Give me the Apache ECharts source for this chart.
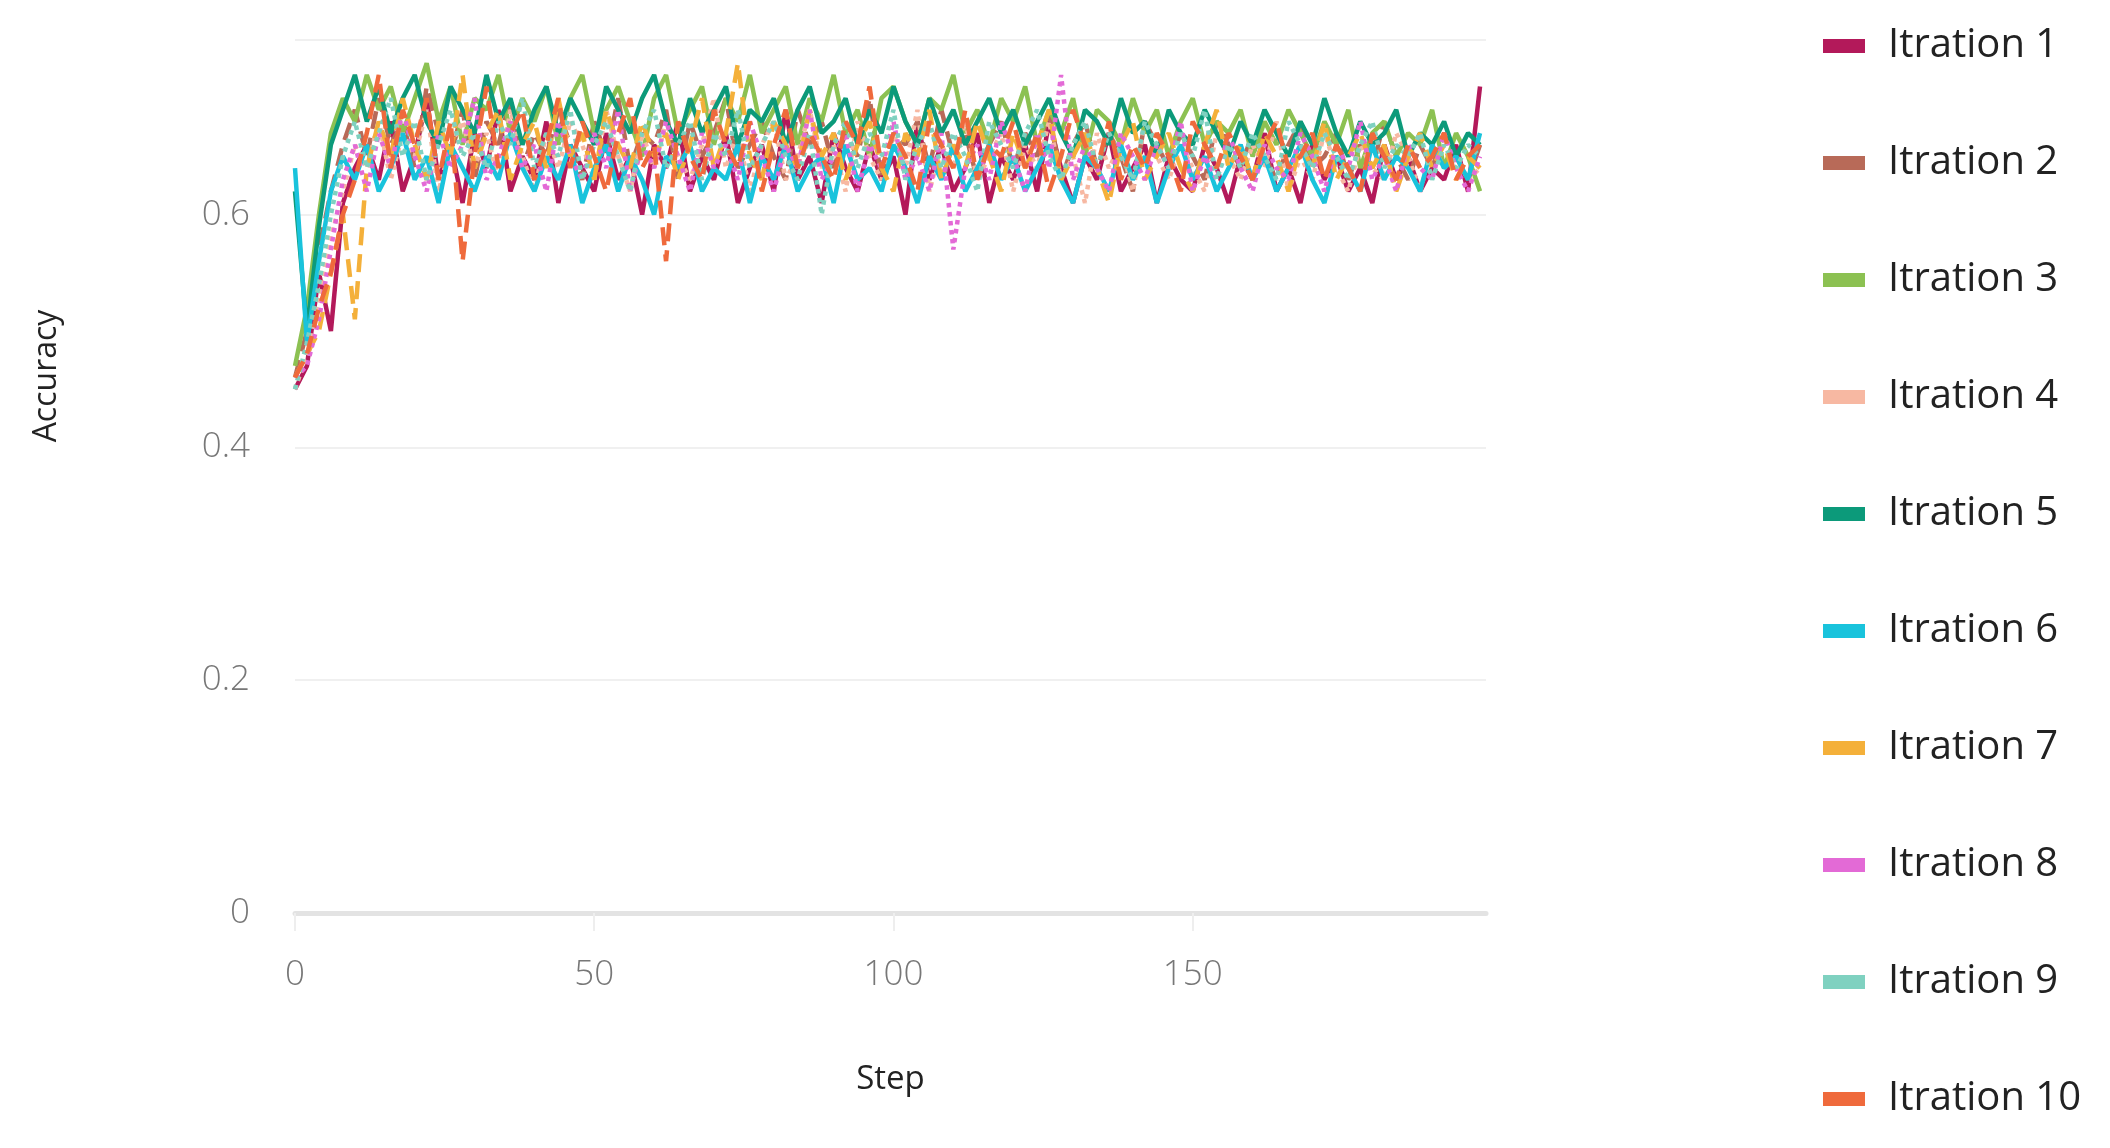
<!DOCTYPE html>
<html><head><meta charset="utf-8">
<script src="https://cdn.jsdelivr.net/npm/echarts@6/dist/echarts.min.js"></script>
<style>html,body{margin:0;padding:0;background:#fff}#c{width:2110px;height:1148px}</style>
</head><body><div id="c"></div>
<script>
const names=["Itration 1","Itration 2","Itration 3","Itration 4","Itration 5","Itration 6","Itration 7","Itration 8","Itration 9","Itration 10"];
const colors=["#b3195a","#b86a58","#8cc152","#f7b8a2","#0c9a7a","#19c3dc","#f4b03a","#e36ad6","#7fd1c0","#ef6a3c"];
const dashes=["solid","dashed","solid","dotted","solid","solid","dashed","dotted","dotted","dashed"];
const steps=[];for(let i=0;i<100;i++)steps.push(i*2);
const s1=[0.45,0.47,0.55,0.50,0.61,0.64,0.66,0.63,0.68,0.62,0.65,0.70,0.63,0.66,0.61,0.67,0.64,0.69,0.62,0.65,
0.63,0.68,0.61,0.66,0.64,0.62,0.67,0.63,0.65,0.60,0.66,0.64,0.68,0.62,0.65,0.63,0.67,0.61,0.64,0.66,
0.62,0.69,0.63,0.65,0.61,0.67,0.64,0.62,0.66,0.63,0.65,0.60,0.68,0.63,0.66,0.62,0.64,0.67,0.61,0.65,
0.63,0.66,0.62,0.68,0.64,0.61,0.65,0.63,0.67,0.62,0.64,0.66,0.61,0.65,0.63,0.62,0.66,0.64,0.61,0.65,
0.63,0.67,0.62,0.64,0.61,0.66,0.63,0.65,0.62,0.64,0.61,0.66,0.63,0.65,0.62,0.64,0.63,0.66,0.62,0.71];
const s2=[0.46,0.50,0.57,0.62,0.66,0.69,0.65,0.70,0.66,0.68,0.64,0.71,0.67,0.65,0.69,0.63,0.68,0.66,0.70,0.64,
0.67,0.65,0.69,0.66,0.63,0.68,0.65,0.70,0.64,0.67,0.66,0.69,0.63,0.68,0.65,0.67,0.70,0.64,0.66,0.68,
0.65,0.63,0.69,0.66,0.68,0.64,0.67,0.65,0.70,0.63,0.67,0.66,0.68,0.64,0.69,0.65,0.67,0.63,0.66,0.68,
0.64,0.67,0.65,0.69,0.63,0.66,0.68,0.64,0.67,0.65,0.62,0.68,0.66,0.64,0.67,0.65,0.63,0.68,0.66,0.64,
0.67,0.65,0.63,0.66,0.68,0.64,0.65,0.67,0.63,0.66,0.64,0.68,0.65,0.63,0.66,0.64,0.67,0.65,0.63,0.66];
const s3=[0.47,0.52,0.60,0.67,0.70,0.68,0.72,0.69,0.71,0.67,0.70,0.73,0.68,0.71,0.66,0.70,0.69,0.72,0.67,0.70,
0.68,0.71,0.66,0.70,0.72,0.67,0.69,0.71,0.68,0.65,0.70,0.72,0.67,0.69,0.71,0.66,0.70,0.68,0.72,0.67,
0.69,0.71,0.66,0.70,0.68,0.72,0.67,0.69,0.65,0.70,0.71,0.68,0.66,0.70,0.69,0.72,0.67,0.69,0.66,0.70,
0.68,0.71,0.66,0.69,0.67,0.70,0.65,0.69,0.68,0.66,0.70,0.67,0.69,0.65,0.68,0.70,0.66,0.68,0.67,0.69,
0.65,0.68,0.66,0.69,0.67,0.65,0.68,0.66,0.69,0.64,0.67,0.68,0.65,0.67,0.66,0.69,0.64,0.67,0.65,0.62];
const s4=[0.45,0.48,0.53,0.58,0.62,0.66,0.64,0.68,0.63,0.67,0.65,0.69,0.62,0.66,0.68,0.64,0.67,0.63,0.69,0.65,
0.62,0.67,0.64,0.68,0.66,0.63,0.69,0.65,0.62,0.67,0.64,0.68,0.65,0.63,0.66,0.70,0.64,0.67,0.62,0.66,
0.68,0.63,0.65,0.69,0.64,0.66,0.62,0.68,0.65,0.63,0.67,0.64,0.69,0.62,0.66,0.64,0.68,0.63,0.65,0.67,
0.62,0.66,0.64,0.68,0.63,0.65,0.61,0.67,0.64,0.66,0.62,0.68,0.65,0.63,0.66,0.64,0.62,0.67,0.65,0.63,
0.66,0.64,0.68,0.62,0.65,0.63,0.67,0.64,0.62,0.66,0.64,0.63,0.67,0.65,0.62,0.66,0.64,0.65,0.63,0.64];
const s5=[0.62,0.50,0.59,0.66,0.69,0.72,0.68,0.71,0.67,0.70,0.72,0.68,0.66,0.71,0.69,0.67,0.72,0.68,0.70,0.66,
0.69,0.71,0.67,0.70,0.68,0.66,0.71,0.69,0.67,0.70,0.72,0.68,0.66,0.70,0.67,0.69,0.71,0.66,0.69,0.68,
0.70,0.66,0.69,0.71,0.67,0.68,0.70,0.66,0.69,0.67,0.71,0.68,0.66,0.70,0.67,0.69,0.66,0.68,0.70,0.67,
0.69,0.66,0.68,0.70,0.67,0.65,0.69,0.68,0.66,0.70,0.67,0.68,0.65,0.69,0.67,0.66,0.69,0.67,0.65,0.68,
0.66,0.69,0.67,0.65,0.68,0.66,0.70,0.67,0.65,0.68,0.66,0.67,0.69,0.65,0.67,0.66,0.68,0.65,0.67,0.66];
const s6=[0.64,0.49,0.56,0.62,0.65,0.63,0.66,0.62,0.64,0.67,0.63,0.65,0.61,0.66,0.64,0.62,0.65,0.63,0.67,0.64,
0.62,0.65,0.63,0.66,0.61,0.64,0.66,0.62,0.65,0.63,0.60,0.65,0.64,0.66,0.62,0.64,0.63,0.66,0.61,0.65,
0.63,0.66,0.62,0.64,0.65,0.61,0.66,0.63,0.64,0.62,0.66,0.64,0.61,0.65,0.63,0.66,0.62,0.64,0.66,0.63,
0.65,0.62,0.64,0.66,0.63,0.61,0.65,0.64,0.62,0.66,0.63,0.65,0.61,0.64,0.66,0.63,0.65,0.62,0.64,0.66,
0.63,0.65,0.62,0.64,0.66,0.63,0.61,0.65,0.64,0.62,0.66,0.63,0.65,0.64,0.62,0.66,0.64,0.65,0.63,0.67];
const s7=[0.46,0.48,0.50,0.55,0.60,0.51,0.64,0.68,0.65,0.70,0.66,0.63,0.68,0.65,0.72,0.64,0.67,0.69,0.63,0.66,
0.68,0.64,0.70,0.65,0.67,0.63,0.69,0.66,0.64,0.68,0.65,0.67,0.63,0.66,0.70,0.64,0.67,0.73,0.65,0.63,
0.68,0.66,0.64,0.69,0.65,0.67,0.63,0.66,0.68,0.64,0.62,0.67,0.65,0.69,0.63,0.66,0.64,0.68,0.65,0.62,
0.67,0.64,0.66,0.69,0.63,0.65,0.67,0.64,0.61,0.66,0.68,0.63,0.65,0.67,0.64,0.62,0.66,0.69,0.64,0.66,
0.63,0.67,0.65,0.62,0.66,0.64,0.68,0.63,0.65,0.67,0.64,0.66,0.62,0.65,0.67,0.64,0.66,0.63,0.65,0.64];
const s8=[0.46,0.47,0.51,0.57,0.63,0.66,0.62,0.67,0.64,0.69,0.65,0.62,0.67,0.64,0.66,0.70,0.63,0.65,0.68,0.64,
0.66,0.62,0.68,0.65,0.63,0.67,0.64,0.69,0.62,0.66,0.64,0.68,0.65,0.62,0.67,0.64,0.66,0.63,0.68,0.65,
0.62,0.66,0.64,0.69,0.63,0.65,0.67,0.62,0.66,0.64,0.68,0.63,0.65,0.62,0.67,0.57,0.64,0.66,0.63,0.68,
0.65,0.62,0.67,0.64,0.72,0.63,0.66,0.64,0.62,0.67,0.65,0.63,0.66,0.64,0.68,0.62,0.65,0.63,0.67,0.64,
0.62,0.66,0.64,0.63,0.67,0.65,0.62,0.66,0.64,0.68,0.63,0.65,0.62,0.66,0.64,0.63,0.67,0.64,0.62,0.65];
const s9=[0.45,0.49,0.54,0.60,0.65,0.68,0.64,0.67,0.70,0.65,0.68,0.63,0.66,0.69,0.65,0.67,0.64,0.68,0.66,0.70,
0.64,0.67,0.65,0.69,0.63,0.66,0.68,0.65,0.62,0.67,0.69,0.64,0.66,0.68,0.63,0.67,0.65,0.69,0.64,0.66,
0.68,0.65,0.63,0.67,0.60,0.66,0.68,0.64,0.67,0.65,0.69,0.63,0.66,0.68,0.64,0.67,0.65,0.62,0.68,0.66,
0.64,0.67,0.69,0.65,0.63,0.66,0.68,0.64,0.67,0.65,0.63,0.68,0.66,0.64,0.67,0.65,0.69,0.63,0.66,0.64,
0.67,0.65,0.63,0.68,0.66,0.64,0.67,0.65,0.63,0.66,0.68,0.64,0.66,0.65,0.67,0.63,0.66,0.64,0.66,0.65];
const s10=[0.46,0.48,0.52,0.55,0.60,0.63,0.67,0.72,0.64,0.69,0.66,0.70,0.63,0.68,0.56,0.65,0.71,0.64,0.67,0.69,
0.63,0.66,0.70,0.64,0.68,0.65,0.62,0.67,0.70,0.64,0.66,0.56,0.68,0.65,0.63,0.69,0.66,0.64,0.68,0.62,
0.66,0.69,0.64,0.67,0.65,0.63,0.68,0.66,0.71,0.64,0.67,0.65,0.62,0.68,0.66,0.64,0.69,0.63,0.66,0.65,
0.68,0.64,0.67,0.62,0.65,0.69,0.66,0.64,0.68,0.63,0.66,0.64,0.67,0.65,0.62,0.68,0.66,0.64,0.67,0.65,
0.63,0.66,0.68,0.64,0.65,0.67,0.63,0.66,0.64,0.62,0.67,0.65,0.63,0.66,0.64,0.65,0.67,0.63,0.65,0.66];
const allSeries=[s1,s2,s3,s4,s5,s6,s7,s8,s9,s10];
const xTicks=[0,50,100,150];
const yTicks=[0,0.2,0.4,0.6];

const chart=echarts.init(document.getElementById('c'));
const font='"Open Sans", "Noto Sans", sans-serif';
chart.setOption({
  animation:false,
  grid:{left:295,right:624,top:40,bottom:235},
  legend:{orient:'vertical',left:1818,top:18,itemWidth:42,itemHeight:14,itemGap:71,
    icon:'rect',textStyle:{fontFamily:font,fontSize:40,lineHeight:46,color:'#222',padding:[0,0,0,18]},data:names},
  graphic:[{type:'text',x:47,y:376,rotation:Math.PI/2,
    style:{text:'Accuracy',fontFamily:font,fontSize:32,fill:'#222',align:'center',verticalAlign:'middle'}}],
  xAxis:{type:'value',min:0,max:199,interval:50,
    name:'Step',nameLocation:'middle',nameGap:150,nameTextStyle:{fontFamily:font,fontSize:33,color:'#222'},
    axisLine:{show:true,lineStyle:{color:'#e3e3e3',width:5}},
    axisTick:{show:true,length:18,lineStyle:{color:'#eeeeee',width:2}},
    splitLine:{show:false},
    axisLabel:{fontFamily:font,fontSize:35,color:'#777',margin:45,fontWeight:300,showMaxLabel:false,
      formatter:v=>xTicks.includes(v)?String(v):''}},
  yAxis:{type:'value',min:0,max:0.75,interval:0.2,
    axisLine:{show:false},axisTick:{show:false},
    splitLine:{show:true,lineStyle:{color:'#f0f0f0',width:2}},
    axisLabel:{fontFamily:font,fontSize:35,color:'#777',margin:45,fontWeight:300,showMaxLabel:false,
      formatter:v=>yTicks.some(t=>Math.abs(t-v)<1e-6)?String(+v.toFixed(1)):''}},
  series:allSeries.map((arr,i)=>({
    name:names[i],type:'line',showSymbol:false,symbol:'circle',
    data:arr.map((v,j)=>[steps[j],v]),
    lineStyle:{color:colors[i],width:4.5,type:dashes[i]},
    itemStyle:{color:colors[i]}
  }))
});
</script></body></html>
